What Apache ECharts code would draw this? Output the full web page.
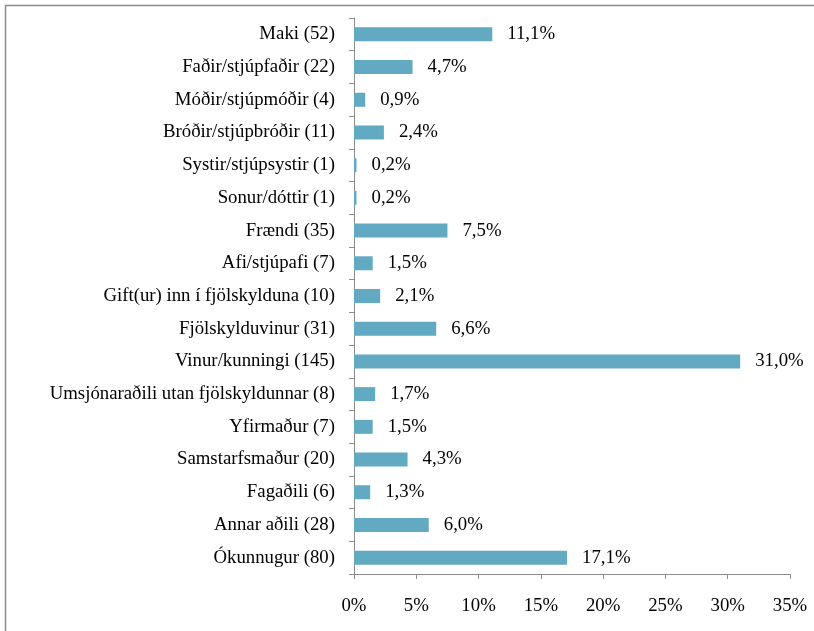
<!DOCTYPE html>
<html>
<head>
<meta charset="utf-8">
<script src="https://cdn.jsdelivr.net/npm/echarts@6/dist/echarts.min.js"></script>
<style>
  html, body { margin: 0; padding: 0; background: #fff; }
  #chart { width: 814px; height: 631px; }
</style>
</head>
<body>
<div id="chart"></div>
<script>
// 类别（从上到下）
const categories = [
    'Maki (52)', 'Faðir/stjúpfaðir (22)', 'Móðir/stjúpmóðir (4)', 'Bróðir/stjúpbróðir (11)',
    'Systir/stjúpsystir (1)', 'Sonur/dóttir (1)', 'Frændi (35)', 'Afi/stjúpafi (7)',
    'Gift(ur) inn í fjölskylduna (10)', 'Fjölskylduvinur (31)', 'Vinur/kunningi (145)',
    'Umsjónaraðili utan fjölskyldunnar (8)', 'Yfirmaður (7)', 'Samstarfsmaður (20)',
    'Fagaðili (6)', 'Annar aðili (28)', 'Ókunnugur (80)'
];

// 百分比数据
const percentValues = [11.1, 4.7, 0.9, 2.4, 0.2, 0.2, 7.5, 1.5, 2.1, 6.6, 31.0, 1.7, 1.5, 4.3, 1.3, 6.0, 17.1];

const fontFamily = '"Liberation Serif", "DejaVu Serif", serif';
const fontSize = 18.8;

const chart = echarts.init(document.getElementById('chart'));

chart.setOption({
    backgroundColor: '#fff',
    animation: false,
    // 外边框
    graphic: [
        {
            type: 'rect',
            shape: { x: 5.5, y: 5.5, width: 830, height: 650 },
            style: { fill: 'none', stroke: '#8c8c8c', lineWidth: 1.5 },
            silent: true
        }
    ],
    grid: {
        left: 354,
        right: 24,
        top: 18,
        bottom: 57
    },
    xAxis: {
        type: 'value',
        min: 0,
        max: 35,
        interval: 5,
        splitLine: { show: false },
        axisLine: { show: true, lineStyle: { color: '#8c8c8c' } },
        axisTick: { show: true, length: 5, lineStyle: { color: '#8c8c8c' } },
        axisLabel: {
            formatter: '{value}%',
            fontFamily: fontFamily,
            fontSize: fontSize,
            color: '#000',
            margin: 23
        }
    },
    yAxis: {
        type: 'category',
        data: categories,
        inverse: true,
        axisLine: { show: true, lineStyle: { color: '#8c8c8c' } },
        axisTick: { show: true, length: 5, lineStyle: { color: '#8c8c8c' } },
        axisLabel: {
            fontFamily: fontFamily,
            fontSize: fontSize,
            color: '#000',
            margin: 19
        }
    },
    series: [
        {
            type: 'bar',
            data: percentValues,
            barWidth: 14,
            itemStyle: { color: '#62a9c2' },
            label: {
                show: true,
                position: 'right',
                distance: 15,
                fontFamily: fontFamily,
                fontSize: fontSize,
                color: '#000',
                formatter: function (p) {
                    return p.value.toFixed(1).replace('.', ',') + '%';
                }
            }
        }
    ]
});
</script>
</body>
</html>
